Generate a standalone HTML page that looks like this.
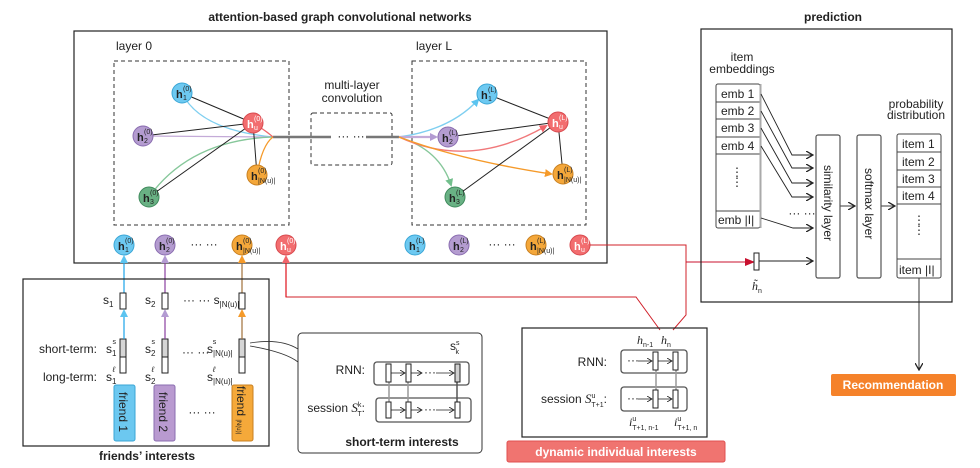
<!DOCTYPE html>
<html><head><meta charset="utf-8"><style>
body{margin:0;background:#fff}
svg{display:block;font-family:"Liberation Sans",sans-serif}
.t{font-size:12px;fill:#222}
.b{font-weight:bold;font-size:12px;fill:#222}
.h{font-size:11px;fill:#222;font-weight:bold}
.s{font-size:7px;fill:#222}
.w{fill:#fff}
</style></head><body>
<svg width="980" height="468" viewBox="0 0 980 468" xmlns="http://www.w3.org/2000/svg">
<defs>
<marker id="ab" markerWidth="8" markerHeight="8" refX="6" refY="4" orient="auto" markerUnits="userSpaceOnUse"><path d="M0,0 L8,4 L0,8 z" fill="#5bc4f0"/></marker>
<marker id="ap" markerWidth="8" markerHeight="8" refX="6" refY="4" orient="auto" markerUnits="userSpaceOnUse"><path d="M0,0 L8,4 L0,8 z" fill="#b39bd2"/></marker>
<marker id="ag" markerWidth="8" markerHeight="8" refX="6" refY="4" orient="auto" markerUnits="userSpaceOnUse"><path d="M0,0 L8,4 L0,8 z" fill="#72bf8c"/></marker>
<marker id="ar" markerWidth="8" markerHeight="8" refX="6" refY="4" orient="auto" markerUnits="userSpaceOnUse"><path d="M0,0 L8,4 L0,8 z" fill="#f0646a"/></marker>
<marker id="ao" markerWidth="8" markerHeight="8" refX="6" refY="4" orient="auto" markerUnits="userSpaceOnUse"><path d="M0,0 L8,4 L0,8 z" fill="#f59a2a"/></marker>
<marker id="ak" markerWidth="8" markerHeight="8" refX="7" refY="4" orient="auto" markerUnits="userSpaceOnUse"><path d="M0,0 L7,4 L0,8" fill="none" stroke="#222" stroke-width="1.3"/></marker>
<marker id="ared" markerWidth="10" markerHeight="8" refX="9" refY="4" orient="auto" markerUnits="userSpaceOnUse"><path d="M0,0 L10,4 L0,8 z" fill="#c8102e"/></marker>
<marker id="sa" markerWidth="6" markerHeight="6" refX="5" refY="3" orient="auto" markerUnits="userSpaceOnUse"><path d="M0,0 L5,3 L0,6" fill="none" stroke="#222" stroke-width="0.8"/></marker>
</defs>

<!-- titles -->
<text x="340" y="21" text-anchor="middle" class="b">attention-based graph convolutional networks</text>
<text x="833" y="21" text-anchor="middle" class="b">prediction</text>

<!-- main GCN box -->
<rect x="74" y="31" width="533" height="232" fill="none" stroke="#222" stroke-width="1.2"/>
<text x="116" y="50" class="t">layer 0</text>
<text x="416" y="50" class="t">layer L</text>
<rect x="114" y="61" width="175" height="164" fill="none" stroke="#333" stroke-dasharray="4,3"/>
<rect x="412" y="61" width="174" height="164" fill="none" stroke="#333" stroke-dasharray="4,3"/>
<rect x="311" y="113" width="81" height="52" rx="2" fill="none" stroke="#333" stroke-dasharray="4,3"/>
<text x="352" y="89" text-anchor="middle" class="t">multi-layer</text>
<text x="352" y="102" text-anchor="middle" class="t">convolution</text>
<line x1="273" y1="137" x2="331" y2="137" stroke="#777" stroke-width="2.5"/>
<text x="351" y="140" text-anchor="middle" class="t">··· ···</text>
<line x1="366" y1="137" x2="399" y2="137" stroke="#777" stroke-width="2.5"/>

<!-- layer 0 edges -->
<g fill="none" stroke-width="1.3">
<path d="M182,93 Q200,130 273,137" stroke="#7fcff0"/>
<path d="M143,136 L273,137" stroke="#c4abd8"/>
<path d="M149,197 Q190,140 273,137" stroke="#86c79a"/>
<path d="M253,123 Q265,130 273,137" stroke="#f0646a"/>
<path d="M257,175 Q262,145 273,137" stroke="#f59a2a"/>
</g>
<g stroke="#222" stroke-width="1">
<line x1="182" y1="93" x2="253" y2="123"/>
<line x1="143" y1="136" x2="253" y2="123"/>
<line x1="149" y1="197" x2="253" y2="123"/>
<line x1="253" y1="123" x2="257" y2="175"/>
</g>
<!-- layer L edges -->
<g fill="none" stroke-width="1.4">
<path d="M399,137 Q450,130 478,100" stroke="#7fcff0" marker-end="url(#ab)"/>
<path d="M399,137 L436,137" stroke="#c4abd8" stroke-width="2.2" marker-end="url(#ap)"/>
<path d="M399,137 Q440,150 451,185" stroke="#86c79a" marker-end="url(#ag)"/>
<path d="M399,137 Q470,170 546,126" stroke="#f0787a" marker-end="url(#ar)"/>
<path d="M399,137 Q460,160 551,174" stroke="#f59a2a" marker-end="url(#ao)"/>
</g>
<g stroke="#222" stroke-width="1">
<line x1="487" y1="94" x2="558" y2="122"/>
<line x1="448" y1="137" x2="558" y2="122"/>
<line x1="455" y1="197" x2="558" y2="122"/>
<line x1="558" y1="122" x2="563" y2="174"/>
</g>

<!-- nodes layer 0 -->
<g stroke-width="1">
<g transform="translate(182,93)"><circle r="10" fill="#6dc9f1" stroke="#3aa6d6"/><text x="-6" y="5" class="h">h</text><text x="1" y="-2" class="s">(0)</text><text x="1" y="7" class="s">1</text></g>
<g transform="translate(143,136)"><circle r="10" fill="#b49cd0" stroke="#8a6db0"/><text x="-6" y="5" class="h">h</text><text x="1" y="-2" class="s">(0)</text><text x="1" y="7" class="s">2</text></g>
<g transform="translate(149,197)"><circle r="10" fill="#69b184" stroke="#3f8a5c"/><text x="-6" y="5" class="h">h</text><text x="1" y="-2" class="s">(0)</text><text x="1" y="7" class="s">3</text></g>
<g transform="translate(253,123)"><circle r="10" fill="#f26d6f" stroke="#d84a4f"/><text x="-6" y="5" class="h w">h</text><text x="1" y="-2" class="s w">(0)</text><text x="1" y="7" class="s w">u</text></g>
<g transform="translate(257,175)"><circle r="10" fill="#f4a73a" stroke="#c98020"/><text x="-6" y="5" class="h">h</text><text x="1" y="-2" class="s">(0)</text><text x="1" y="8" class="s">|N(u)|</text></g>
<!-- nodes layer L -->
<g transform="translate(487,94)"><circle r="10" fill="#6dc9f1" stroke="#3aa6d6"/><text x="-6" y="5" class="h">h</text><text x="1" y="-2" class="s">(L)</text><text x="1" y="7" class="s">1</text></g>
<g transform="translate(448,137)"><circle r="10" fill="#b49cd0" stroke="#8a6db0"/><text x="-6" y="5" class="h">h</text><text x="1" y="-2" class="s">(L)</text><text x="1" y="7" class="s">2</text></g>
<g transform="translate(455,197)"><circle r="10" fill="#69b184" stroke="#3f8a5c"/><text x="-6" y="5" class="h">h</text><text x="1" y="-2" class="s">(L)</text><text x="1" y="7" class="s">3</text></g>
<g transform="translate(558,122)"><circle r="10" fill="#f26d6f" stroke="#d84a4f"/><text x="-6" y="5" class="h w">h</text><text x="1" y="-2" class="s w">(L)</text><text x="1" y="7" class="s w">u</text></g>
<g transform="translate(563,174)"><circle r="10" fill="#f4a73a" stroke="#c98020"/><text x="-6" y="5" class="h">h</text><text x="1" y="-2" class="s">(L)</text><text x="1" y="8" class="s">|N(u)|</text></g>
<!-- bottom row -->
<g transform="translate(124,245)"><circle r="10" fill="#6dc9f1" stroke="#3aa6d6"/><text x="-6" y="5" class="h">h</text><text x="1" y="-2" class="s">(0)</text><text x="1" y="7" class="s">1</text></g>
<g transform="translate(165,245)"><circle r="10" fill="#b49cd0" stroke="#8a6db0"/><text x="-6" y="5" class="h">h</text><text x="1" y="-2" class="s">(0)</text><text x="1" y="7" class="s">2</text></g>
<text x="204" y="248" text-anchor="middle" class="t">··· ···</text>
<g transform="translate(242,245)"><circle r="10" fill="#f4a73a" stroke="#c98020"/><text x="-6" y="5" class="h">h</text><text x="1" y="-2" class="s">(0)</text><text x="1" y="8" class="s">|N(u)|</text></g>
<g transform="translate(286,245)"><circle r="10" fill="#f26d6f" stroke="#d84a4f"/><text x="-6" y="5" class="h w">h</text><text x="1" y="-2" class="s w">(0)</text><text x="1" y="7" class="s w">u</text></g>
<g transform="translate(415,245)"><circle r="10" fill="#6dc9f1" stroke="#3aa6d6"/><text x="-6" y="5" class="h">h</text><text x="1" y="-2" class="s">(L)</text><text x="1" y="7" class="s">1</text></g>
<g transform="translate(459,245)"><circle r="10" fill="#b49cd0" stroke="#8a6db0"/><text x="-6" y="5" class="h">h</text><text x="1" y="-2" class="s">(L)</text><text x="1" y="7" class="s">2</text></g>
<text x="502" y="248" text-anchor="middle" class="t">··· ···</text>
<g transform="translate(536,245)"><circle r="10" fill="#f4a73a" stroke="#c98020"/><text x="-6" y="5" class="h">h</text><text x="1" y="-2" class="s">(L)</text><text x="1" y="8" class="s">|N(u)|</text></g>
<g transform="translate(580,245)"><circle r="10" fill="#f26d6f" stroke="#d84a4f"/><text x="-6" y="5" class="h w">h</text><text x="1" y="-2" class="s w">(L)</text><text x="1" y="7" class="s w">u</text></g>
</g>

<!-- arrows from friends up -->
<line x1="124" y1="293" x2="124" y2="257" stroke="#1aa3e8" stroke-width="1.2" marker-end="url(#ab)"/>
<line x1="165" y1="293" x2="165" y2="257" stroke="#8a3fa0" stroke-width="1.2" marker-end="url(#ap)"/>
<line x1="242" y1="293" x2="242" y2="257" stroke="#a0703a" stroke-width="1.2" marker-end="url(#ao)"/>
<!-- red connectors -->
<polyline points="286,257 286,297 636,297 660,330" fill="none" stroke="#d0202a" stroke-width="1"/>
<polyline points="590,245 686,245 686,315 673,330" fill="none" stroke="#d0202a" stroke-width="1"/>
<line x1="686" y1="262" x2="754" y2="262" stroke="#c8102e" stroke-width="1" marker-end="url(#ared)"/>
<line x1="286" y1="297" x2="286" y2="257" stroke="#e0101a" stroke-width="1.2" marker-end="url(#ar)"/>

<!-- friends box -->
<rect x="23" y="279" width="246" height="167" fill="none" stroke="#222" stroke-width="1.2"/>
<text x="147" y="460" text-anchor="middle" class="b">friends’ interests</text>
<g fill="#fff" stroke="#222" stroke-width="1">
<rect x="120" y="293" width="6" height="16"/><rect x="162" y="293" width="6" height="16"/><rect x="239" y="293" width="6" height="16"/>
<rect x="120" y="339" width="6" height="18" fill="#d6d6d6"/><rect x="162" y="339" width="6" height="18" fill="#d6d6d6"/><rect x="239" y="339" width="6" height="18" fill="#d6d6d6"/>
<rect x="120" y="357" width="6" height="16"/><rect x="162" y="357" width="6" height="16"/><rect x="239" y="357" width="6" height="16"/>
</g>
<g stroke-width="1.2">
<line x1="124" y1="339" x2="124" y2="311" stroke="#1aa3e8" marker-end="url(#ab)"/>
<line x1="165" y1="339" x2="165" y2="311" stroke="#8a3fa0" marker-end="url(#ap)"/>
<line x1="242" y1="339" x2="242" y2="311" stroke="#a0703a" marker-end="url(#ao)"/>
</g>
<text x="103" y="304" class="t">s<tspan font-size="8" dy="3">1</tspan></text>
<text x="145" y="304" class="t">s<tspan font-size="8" dy="3">2</tspan></text>
<text x="183" y="304" class="t">··· ··· s<tspan font-size="8" dy="3">|N(u)|</tspan></text>
<text x="97" y="353" text-anchor="end" class="t">short-term:</text>
<text x="97" y="381" text-anchor="end" class="t">long-term:</text>
<text x="106" y="353" class="t">s<tspan font-size="8" dy="3">1</tspan><tspan font-size="7" dx="-4" dy="-12">s</tspan></text>
<text x="145" y="353" class="t">s<tspan font-size="8" dy="3">2</tspan><tspan font-size="7" dx="-4" dy="-12">s</tspan></text>
<text x="182" y="356" class="t">··· ···</text>
<text x="207" y="353" class="t">s<tspan font-size="8" dy="3">|N(u)|</tspan><tspan font-size="7" dx="-20" dy="-12">s</tspan></text>
<text x="106" y="381" class="t">s<tspan font-size="8" dy="3">1</tspan><tspan font-size="8" dx="-4" dy="-12" font-style="italic">ℓ</tspan></text>
<text x="145" y="381" class="t">s<tspan font-size="8" dy="3">2</tspan><tspan font-size="8" dx="-4" dy="-12" font-style="italic">ℓ</tspan></text>
<text x="207" y="381" class="t">s<tspan font-size="8" dy="3">|N(u)|</tspan><tspan font-size="8" dx="-20" dy="-12" font-style="italic">ℓ</tspan></text>
<rect x="114" y="385" width="21" height="56" rx="2" fill="#6cc8f0" stroke="#3aa6d6"/>
<rect x="154" y="385" width="21" height="56" rx="2" fill="#b99ad0" stroke="#8a6db0"/>
<rect x="232" y="385" width="21" height="56" rx="2" fill="#f5a93a" stroke="#c98020"/>
<text transform="translate(119,392) rotate(90)" class="t">friend 1</text>
<text transform="translate(159,392) rotate(90)" class="t">friend 2</text>
<text transform="translate(237,386) rotate(90)" class="t">friend <tspan font-size="6">|N(u)|</tspan></text>
<text x="202" y="416" text-anchor="middle" class="t">··· ···</text>

<!-- callout -->
<path d="M250,343 Q280,338 298,349" fill="none" stroke="#333" stroke-width="0.8"/>
<path d="M250,346 Q285,352 298,362" fill="none" stroke="#333" stroke-width="0.8"/>
<!-- short-term interests box -->
<rect x="298" y="333" width="184" height="120" rx="4" fill="#fff" stroke="#333" stroke-width="1"/>
<text x="402" y="446" text-anchor="middle" class="b">short-term  interests</text>
<text x="365" y="374" text-anchor="end" class="t">RNN:</text>
<text x="365" y="412" text-anchor="end" class="t">session <tspan font-style="italic" font-family="Liberation Serif" font-size="13">S</tspan><tspan font-size="7" dy="-5">k</tspan><tspan font-size="7" dx="-4" dy="9">T</tspan><tspan dy="-4">:</tspan></text>
<text x="450" y="350" class="t" font-size="11">s<tspan font-size="7" dy="-5">s</tspan><tspan font-size="7" dx="-4" dy="9">k</tspan></text>
<rect x="374" y="362" width="95" height="23" rx="3" fill="none" stroke="#555" stroke-width="1.3"/>
<rect x="376" y="398" width="95" height="24" rx="3" fill="none" stroke="#555" stroke-width="1.3"/>
<g stroke="#999" stroke-width="1.5"><line x1="389" y1="402" x2="389" y2="382"/><line x1="408" y1="402" x2="408" y2="382"/><line x1="457" y1="402" x2="457" y2="382" stroke="#555"/></g>
<g fill="#fff" stroke="#222" stroke-width="1">
<rect x="386" y="364" width="5" height="18"/><rect x="406" y="364" width="5" height="18"/><rect x="455" y="364" width="5" height="18" fill="#d0d0d0"/>
<rect x="386" y="402" width="5" height="16"/><rect x="406" y="402" width="5" height="16"/><rect x="455" y="402" width="5" height="16"/>
</g>
<g stroke="#222" stroke-width="0.8"><line x1="391" y1="373" x2="405" y2="373" marker-end="url(#sa)"/><line x1="411" y1="373" x2="422" y2="373" marker-end="url(#sa)"/><line x1="436" y1="373" x2="454" y2="373" marker-end="url(#sa)"/>
<line x1="391" y1="410" x2="405" y2="410" marker-end="url(#sa)"/><line x1="411" y1="410" x2="422" y2="410" marker-end="url(#sa)"/><line x1="436" y1="410" x2="454" y2="410" marker-end="url(#sa)"/></g>
<text x="424" y="376" class="t" font-size="9">···</text><text x="424" y="413" class="t" font-size="9">···</text>

<!-- dynamic box -->
<rect x="522" y="328" width="185" height="109" fill="none" stroke="#222" stroke-width="1.2"/>
<rect x="507" y="441" width="218" height="21" rx="2" fill="#f07470" stroke="#e05050"/>
<text x="616" y="456" text-anchor="middle" class="b" fill="#fff" style="fill:#fff">dynamic individual interests</text>
<text x="607" y="366" text-anchor="end" class="t">RNN:</text>
<text x="607" y="403" text-anchor="end" class="t">session <tspan font-style="italic" font-family="Liberation Serif" font-size="13">S</tspan><tspan font-size="7" dy="-5">u</tspan><tspan font-size="7" dx="-4" dy="9">T+1</tspan><tspan dy="-4">:</tspan></text>
<rect x="621" y="350" width="66" height="23" rx="3" fill="none" stroke="#555" stroke-width="1.3"/>
<rect x="621" y="387" width="66" height="24" rx="3" fill="none" stroke="#555" stroke-width="1.3"/>
<g stroke="#999" stroke-width="1.5"><line x1="656" y1="390" x2="656" y2="370"/><line x1="676" y1="390" x2="676" y2="370"/></g>
<g fill="#fff" stroke="#222"><rect x="653" y="352" width="5" height="18"/><rect x="673" y="352" width="5" height="18"/><rect x="653" y="390" width="5" height="18"/><rect x="673" y="390" width="5" height="18"/></g>
<g stroke="#222" stroke-width="0.8"><line x1="638" y1="361" x2="652" y2="361" marker-end="url(#sa)"/><line x1="658" y1="361" x2="672" y2="361" marker-end="url(#sa)"/><line x1="638" y1="399" x2="652" y2="399" marker-end="url(#sa)"/><line x1="658" y1="399" x2="672" y2="399" marker-end="url(#sa)"/></g>
<text x="627" y="364" class="t" font-size="9">···</text><text x="627" y="402" class="t" font-size="9">···</text>
<text x="637" y="344" class="t" font-style="italic" font-family="Liberation Serif">h<tspan font-size="7" font-style="normal" font-family="Liberation Sans" dy="3">n-1</tspan></text>
<text x="661" y="344" class="t" font-style="italic" font-family="Liberation Serif">h<tspan font-size="7" font-style="normal" font-family="Liberation Sans" dy="3">n</tspan></text>
<text x="629" y="426" class="t" font-style="italic" font-family="Liberation Serif">i<tspan font-size="7" font-style="normal" font-family="Liberation Sans" dy="-5">u</tspan><tspan font-size="7" font-style="normal" font-family="Liberation Sans" dx="-4" dy="9">T+1, n-1</tspan></text>
<text x="674" y="426" class="t" font-style="italic" font-family="Liberation Serif">i<tspan font-size="7" font-style="normal" font-family="Liberation Sans" dy="-5">u</tspan><tspan font-size="7" font-style="normal" font-family="Liberation Sans" dx="-4" dy="9">T+1, n</tspan></text>

<!-- prediction box -->
<rect x="701" y="29" width="251" height="273" fill="none" stroke="#222" stroke-width="1.2"/>
<text x="742" y="61" text-anchor="middle" class="t">item</text>
<text x="742" y="73" text-anchor="middle" class="t">embeddings</text>
<rect x="716" y="84" width="44" height="144" rx="2" fill="#fff" stroke="#444"/>
<g stroke="#444"><line x1="716" y1="102" x2="760" y2="102"/><line x1="716" y1="119" x2="760" y2="119"/><line x1="716" y1="137" x2="760" y2="137"/><line x1="716" y1="154" x2="760" y2="154"/><line x1="716" y1="211" x2="760" y2="211"/></g>
<line x1="760.5" y1="84" x2="760.5" y2="228" stroke="#aaa" stroke-width="2"/>
<text x="721" y="98" class="t">emb 1</text><text x="721" y="115" class="t">emb 2</text><text x="721" y="132" class="t">emb 3</text><text x="721" y="150" class="t">emb 4</text>
<text x="718" y="224" class="t">emb |I|</text>
<text x="737" y="176" text-anchor="middle" class="t" font-size="9">⋮</text><text x="737" y="186" text-anchor="middle" class="t" font-size="9">⋮</text>
<g fill="none" stroke="#222" stroke-width="0.9">
<polyline points="761,94 792,155 813,155" marker-end="url(#ak)"/>
<polyline points="761,111 792,168 813,168" marker-end="url(#ak)"/>
<polyline points="761,128 792,183 813,183" marker-end="url(#ak)"/>
<polyline points="761,146 792,197 813,197" marker-end="url(#ak)"/>
<polyline points="761,218 793,228 813,228" marker-end="url(#ak)"/>
<line x1="759" y1="261" x2="813" y2="261" marker-end="url(#ak)"/>
<line x1="840" y1="206" x2="855" y2="206" marker-end="url(#ak)"/>
<line x1="881" y1="206" x2="895" y2="206" marker-end="url(#ak)"/>
<line x1="919" y1="278" x2="919" y2="370" marker-end="url(#ak)"/>
</g>
<text x="802" y="217" text-anchor="middle" class="t" font-size="9">··· ···</text>
<rect x="754" y="253" width="5" height="17" fill="#fff" stroke="#222"/>
<text x="752" y="290" class="t" font-style="italic" font-family="Liberation Serif">h̃<tspan font-size="7" font-style="normal" font-family="Liberation Sans" dy="3">n</tspan></text>
<rect x="816" y="135" width="24" height="143" rx="2" fill="#fff" stroke="#555" stroke-width="1.2"/>
<rect x="857" y="135" width="24" height="143" rx="2" fill="#fff" stroke="#555" stroke-width="1.2"/>
<text transform="translate(824,165) rotate(90)" class="t">similarity layer</text>
<text transform="translate(865,168) rotate(90)" class="t">softmax layer</text>
<text x="916" y="108" text-anchor="middle" class="t">probability</text>
<text x="916" y="119" text-anchor="middle" class="t">distribution</text>
<rect x="897" y="134" width="44" height="144" rx="2" fill="#fff" stroke="#444"/>
<g stroke="#444"><line x1="897" y1="152" x2="941" y2="152"/><line x1="897" y1="170" x2="941" y2="170"/><line x1="897" y1="187" x2="941" y2="187"/><line x1="897" y1="204" x2="941" y2="204"/><line x1="897" y1="259" x2="941" y2="259"/></g>
<text x="902" y="148" class="t">item 1</text><text x="902" y="166" class="t">item 2</text><text x="902" y="183" class="t">item 3</text><text x="902" y="200" class="t">item 4</text>
<text x="899" y="274" class="t">item |I|</text>
<text x="919" y="224" text-anchor="middle" class="t" font-size="9">⋮</text><text x="919" y="234" text-anchor="middle" class="t" font-size="9">⋮</text>
<rect x="831" y="374" width="125" height="22" rx="2" fill="#f5822a"/>
<text x="893" y="389" text-anchor="middle" class="b" style="fill:#fff">Recommendation</text>
</svg>
</body></html>
